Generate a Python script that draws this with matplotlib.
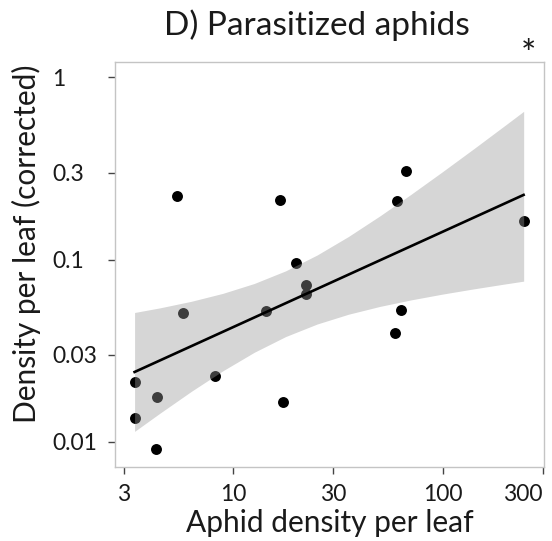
import numpy as np
import matplotlib
matplotlib.use('Agg')
import matplotlib.pyplot as plt

plt.rcParams['font.family'] = ['Lato', 'DejaVu Sans']

# points (aphids per leaf, parasitized density)
aphid = [5.37, 16.7, 19.95, 22.3, 22.2, 14.4, 5.76, 8.21, 3.38, 4.34,
         17.2, 3.40, 4.30, 66.4, 60.5, 245, 63, 58.9]
density = [0.224, 0.212, 0.096, 0.0727, 0.0644, 0.0523, 0.0507, 0.0230, 0.0214,
           0.0177, 0.0165, 0.0136, 0.0091, 0.308, 0.210, 0.163, 0.0531, 0.0395]

fit_x = [3.38, 243]
fit_y = [0.0242, 0.2265]
band_x = [3.38, 4.47, 6.31, 8.91, 12.59, 17.78, 25.12, 35.48, 50.12,
          70.79, 100, 141.3, 199.5, 243.2]
band_lo = [0.01143, 0.01439, 0.01896, 0.02455, 0.03103, 0.03785, 0.04434,
           0.05019, 0.05540, 0.06019, 0.06475, 0.06920, 0.07363, 0.07621]
band_hi = [0.0513, 0.0544, 0.0591, 0.0653, 0.0740, 0.0868, 0.1060, 0.1340,
           0.1738, 0.2289, 0.3045, 0.4077, 0.5483, 0.6508]

x_ticks = [3, 10, 30, 100, 300]
x_labels = ['3', '10', '30', '100', '300']
y_ticks = [0.01, 0.03, 0.1, 0.3, 1]
y_labels = ['0.01', '0.03', '0.1', '0.3', '1']

fig = plt.figure(figsize=(5.52, 5.41), dpi=100)
ax = fig.add_axes([0.208, 0.137, 0.778, 0.748])

# points first, band over them (so points inside it look grey), line on top
ax.scatter(aphid, density, s=62, color='black', zorder=2, linewidths=0)
ax.fill_between(band_x, band_lo, band_hi, color='#999999', alpha=0.4,
                linewidth=0, zorder=3)
ax.plot(fit_x, fit_y, color='black', linewidth=1.9, zorder=4)

ax.set_xscale('log')
ax.set_yscale('log')
ax.set_xlim(2.72, 305)
ax.set_ylim(0.0073, 1.21)

ax.set_xticks(x_ticks)
ax.set_xticklabels(x_labels)
ax.set_yticks(y_ticks)
ax.set_yticklabels(y_labels)
ax.minorticks_off()

ax.tick_params(axis='both', length=5, width=1, color='#444444',
               labelsize=16.5, labelcolor='#1a1a1a')
ax.tick_params(axis='x', pad=7)
ax.tick_params(axis='y', pad=40)
for lab in ax.get_yticklabels():
    lab.set_ha('left')
ax.get_xticklabels()[-1].set_ha('right')

for sp in ax.spines.values():
    sp.set_color('#c4c4c4')
    sp.set_linewidth(1)

# title and axis labels, placed by pixel position in the 552x541 figure
fig.text(317 / 552, 1 - 35 / 541, 'D) Parasitized aphids',
         fontsize=24, ha='center', va='baseline', color='#1a1a1a')
fig.text(528 / 552, 1 - 56 / 541, '*', fontsize=26, ha='center', va='center',
         color='#1a1a1a')
fig.text(330 / 552, 1 - 532 / 541, 'Aphid density per leaf', fontsize=21.5,
         ha='center', va='baseline', color='#1a1a1a')
fig.text(36 / 552, 1 - 244 / 541, 'Density per leaf (corrected)', fontsize=21.5,
         ha='center', va='baseline', rotation=90, rotation_mode='anchor',
         color='#1a1a1a')

fig.savefig('out.png', dpi=100)
